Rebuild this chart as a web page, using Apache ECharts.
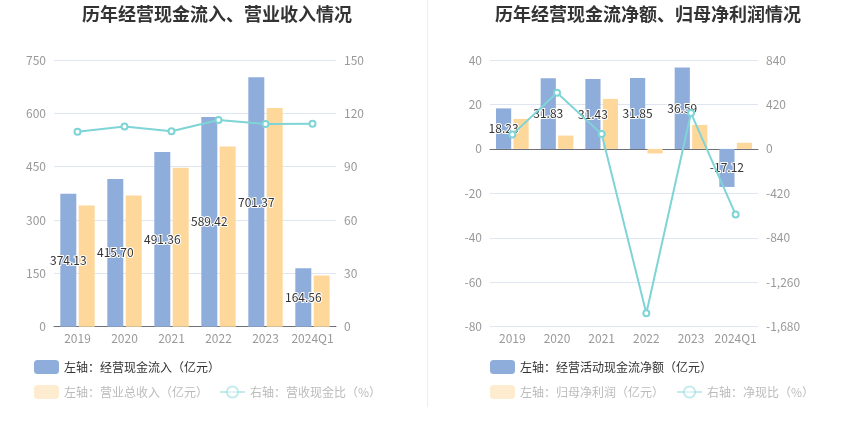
<!DOCTYPE html>
<html><head><meta charset="utf-8">
<script src="https://cdn.jsdelivr.net/npm/echarts@6/dist/echarts.min.js"></script>
<style>html,body{margin:0;padding:0;background:#fff}#c{width:850px;height:437px}</style>
</head><body><div id="c"></div>
<script>
const years = ['2019','2020','2021','2022','2023','2024Q1'];
const cashInflow = [374.13, 415.70, 491.36, 589.42, 701.37, 164.56];
const revenue = [341.1, 369.2, 447.3, 507.0, 615.2, 144.2];
const cashRevenueRatio = [109.7, 112.6, 109.9, 116.3, 114.0, 114.1];
const netCashFlow = [18.23, 31.83, 31.43, 31.85, 36.59, -17.12];
const netProfit = [13.5, 6.0, 22.5, -2.05, 10.8, 2.76];
const netCashRatio = [135.0, 530.5, 139.7, -1553.7, 338.8, -620.3];
const leftTicks = {min: 0, max: 750, interval: 150};
const leftRightTicks = {min: 0, max: 150, interval: 30};
const rightTicks = {min: -80, max: 40, interval: 20};
const rightRightTicks = {min: -1680, max: 840, interval: 420};

const FONT = "'Noto Sans CJK SC', 'Noto Sans', sans-serif";
const BLUE = '#8eadda', YELLOW = '#fed89b', TEAL = '#7ed4d6';
const axisLabel = {color: '#999', fontSize: 12, fontFamily: FONT};
const xLabel = {color: '#999', fontSize: 12, fontFamily: FONT, margin: 6, interval: 0};
const splitLine = {lineStyle: {color: '#e0e6f1'}};
const barLabel = {
  show: true, position: 'inside', color: '#333', fontSize: 12, fontFamily: FONT,
  textBorderColor: '#fff', textBorderWidth: 2,
  formatter: p => Number(p.value).toFixed(2)
};
const legendText = {color: '#333', fontSize: 12, fontFamily: FONT};
const fadedText = {color: '#bbb', fontSize: 12, fontFamily: FONT};
const fadedLine = {itemStyle: {opacity: 0.45}, lineStyle: {opacity: 0.45}, textStyle: fadedText};

const chart = echarts.init(document.getElementById('c'));
chart.setOption({
  animation: false,
  textStyle: {fontFamily: FONT},
  title: [
    {text: '历年经营现金流入、营业收入情况', left: 212, top: 0, textAlign: 'center',
     textStyle: {fontSize: 18, fontWeight: 'bold', color: '#333', fontFamily: FONT}},
    {text: '历年经营现金流净额、归母净利润情况', left: 643, top: 0, textAlign: 'center',
     textStyle: {fontSize: 18, fontWeight: 'bold', color: '#333', fontFamily: FONT}}
  ],
  graphic: [{type: 'line', shape: {x1: 427.5, y1: 0, x2: 427.5, y2: 407}, style: {stroke: '#eeeeee', lineWidth: 1}}],
  legend: [
    {left: 29, top: 355, itemWidth: 25, itemHeight: 14, textStyle: legendText,
     data: [{name: '左轴：经营现金流入（亿元）'}]},
    {left: 29, top: 380, itemWidth: 25, itemHeight: 14, itemGap: 11, textStyle: fadedText,
     data: [
       {name: '左轴：营业总收入（亿元）', itemStyle: {color: '#feecd0'}, textStyle: fadedText},
       Object.assign({name: '右轴：营收现金比（%）'}, fadedLine)
     ]},
    {left: 485, top: 355, itemWidth: 25, itemHeight: 14, textStyle: legendText,
     data: [{name: '左轴：经营活动现金流净额（亿元）'}]},
    {left: 485, top: 380, itemWidth: 25, itemHeight: 14, itemGap: 12, textStyle: fadedText,
     data: [
       {name: '左轴：归母净利润（亿元）', itemStyle: {color: '#feecd0'}, textStyle: fadedText},
       Object.assign({name: '右轴：净现比（%）'}, fadedLine)
     ]}
  ],
  grid: [
    {left: 54, top: 60, width: 282, height: 266.7},
    {left: 490, top: 60, width: 268, height: 266.7}
  ],
  xAxis: [
    {type: 'category', gridIndex: 0, data: years, axisLabel: xLabel,
     axisTick: {alignWithLabel: true}, axisLine: {lineStyle: {color: '#6e7079'}}},
    {type: 'category', gridIndex: 1, data: years, position: 'bottom', axisLabel: xLabel,
     axisLine: {show: false, onZero: false}, axisTick: {show: false}},
    {type: 'category', gridIndex: 1, data: years,
     axisLabel: {show: false}, axisTick: {alignWithLabel: true, interval: 0},
     axisLine: {onZero: true, lineStyle: {color: '#6e7079'}}}
  ],
  yAxis: [
    Object.assign({type: 'value', gridIndex: 0, axisLabel: axisLabel, splitLine: splitLine}, leftTicks),
    Object.assign({type: 'value', gridIndex: 0, position: 'right', axisLabel: axisLabel, splitLine: {show: false}}, leftRightTicks),
    Object.assign({type: 'value', gridIndex: 1, axisLabel: axisLabel, splitLine: splitLine}, rightTicks),
    Object.assign({type: 'value', gridIndex: 1, position: 'right', axisLabel: axisLabel, splitLine: {show: false}}, rightRightTicks)
  ],
  series: [
    {name: '左轴：经营现金流入（亿元）', type: 'bar', xAxisIndex: 0, yAxisIndex: 0, data: cashInflow,
     barWidth: '34%', barGap: '15%', itemStyle: {color: BLUE}, label: barLabel, z: 2},
    {name: '左轴：营业总收入（亿元）', type: 'bar', xAxisIndex: 0, yAxisIndex: 0, data: revenue,
     barWidth: '34%', barGap: '15%', itemStyle: {color: YELLOW}},
    {name: '右轴：营收现金比（%）', type: 'line', xAxisIndex: 0, yAxisIndex: 1, data: cashRevenueRatio,
     symbol: 'emptyCircle', symbolSize: 6, itemStyle: {color: TEAL}, lineStyle: {color: TEAL, width: 2}, z: 3},
    {name: '左轴：经营活动现金流净额（亿元）', type: 'bar', xAxisIndex: 2, yAxisIndex: 2, data: netCashFlow,
     barWidth: '34%', barGap: '15%', itemStyle: {color: BLUE}, label: barLabel, z: 2},
    {name: '左轴：归母净利润（亿元）', type: 'bar', xAxisIndex: 2, yAxisIndex: 2, data: netProfit,
     barWidth: '34%', barGap: '15%', itemStyle: {color: YELLOW}},
    {name: '右轴：净现比（%）', type: 'line', xAxisIndex: 2, yAxisIndex: 3, data: netCashRatio,
     symbol: 'emptyCircle', symbolSize: 6, itemStyle: {color: TEAL}, lineStyle: {color: TEAL, width: 2}, z: 3}
  ]
});
</script></body></html>
